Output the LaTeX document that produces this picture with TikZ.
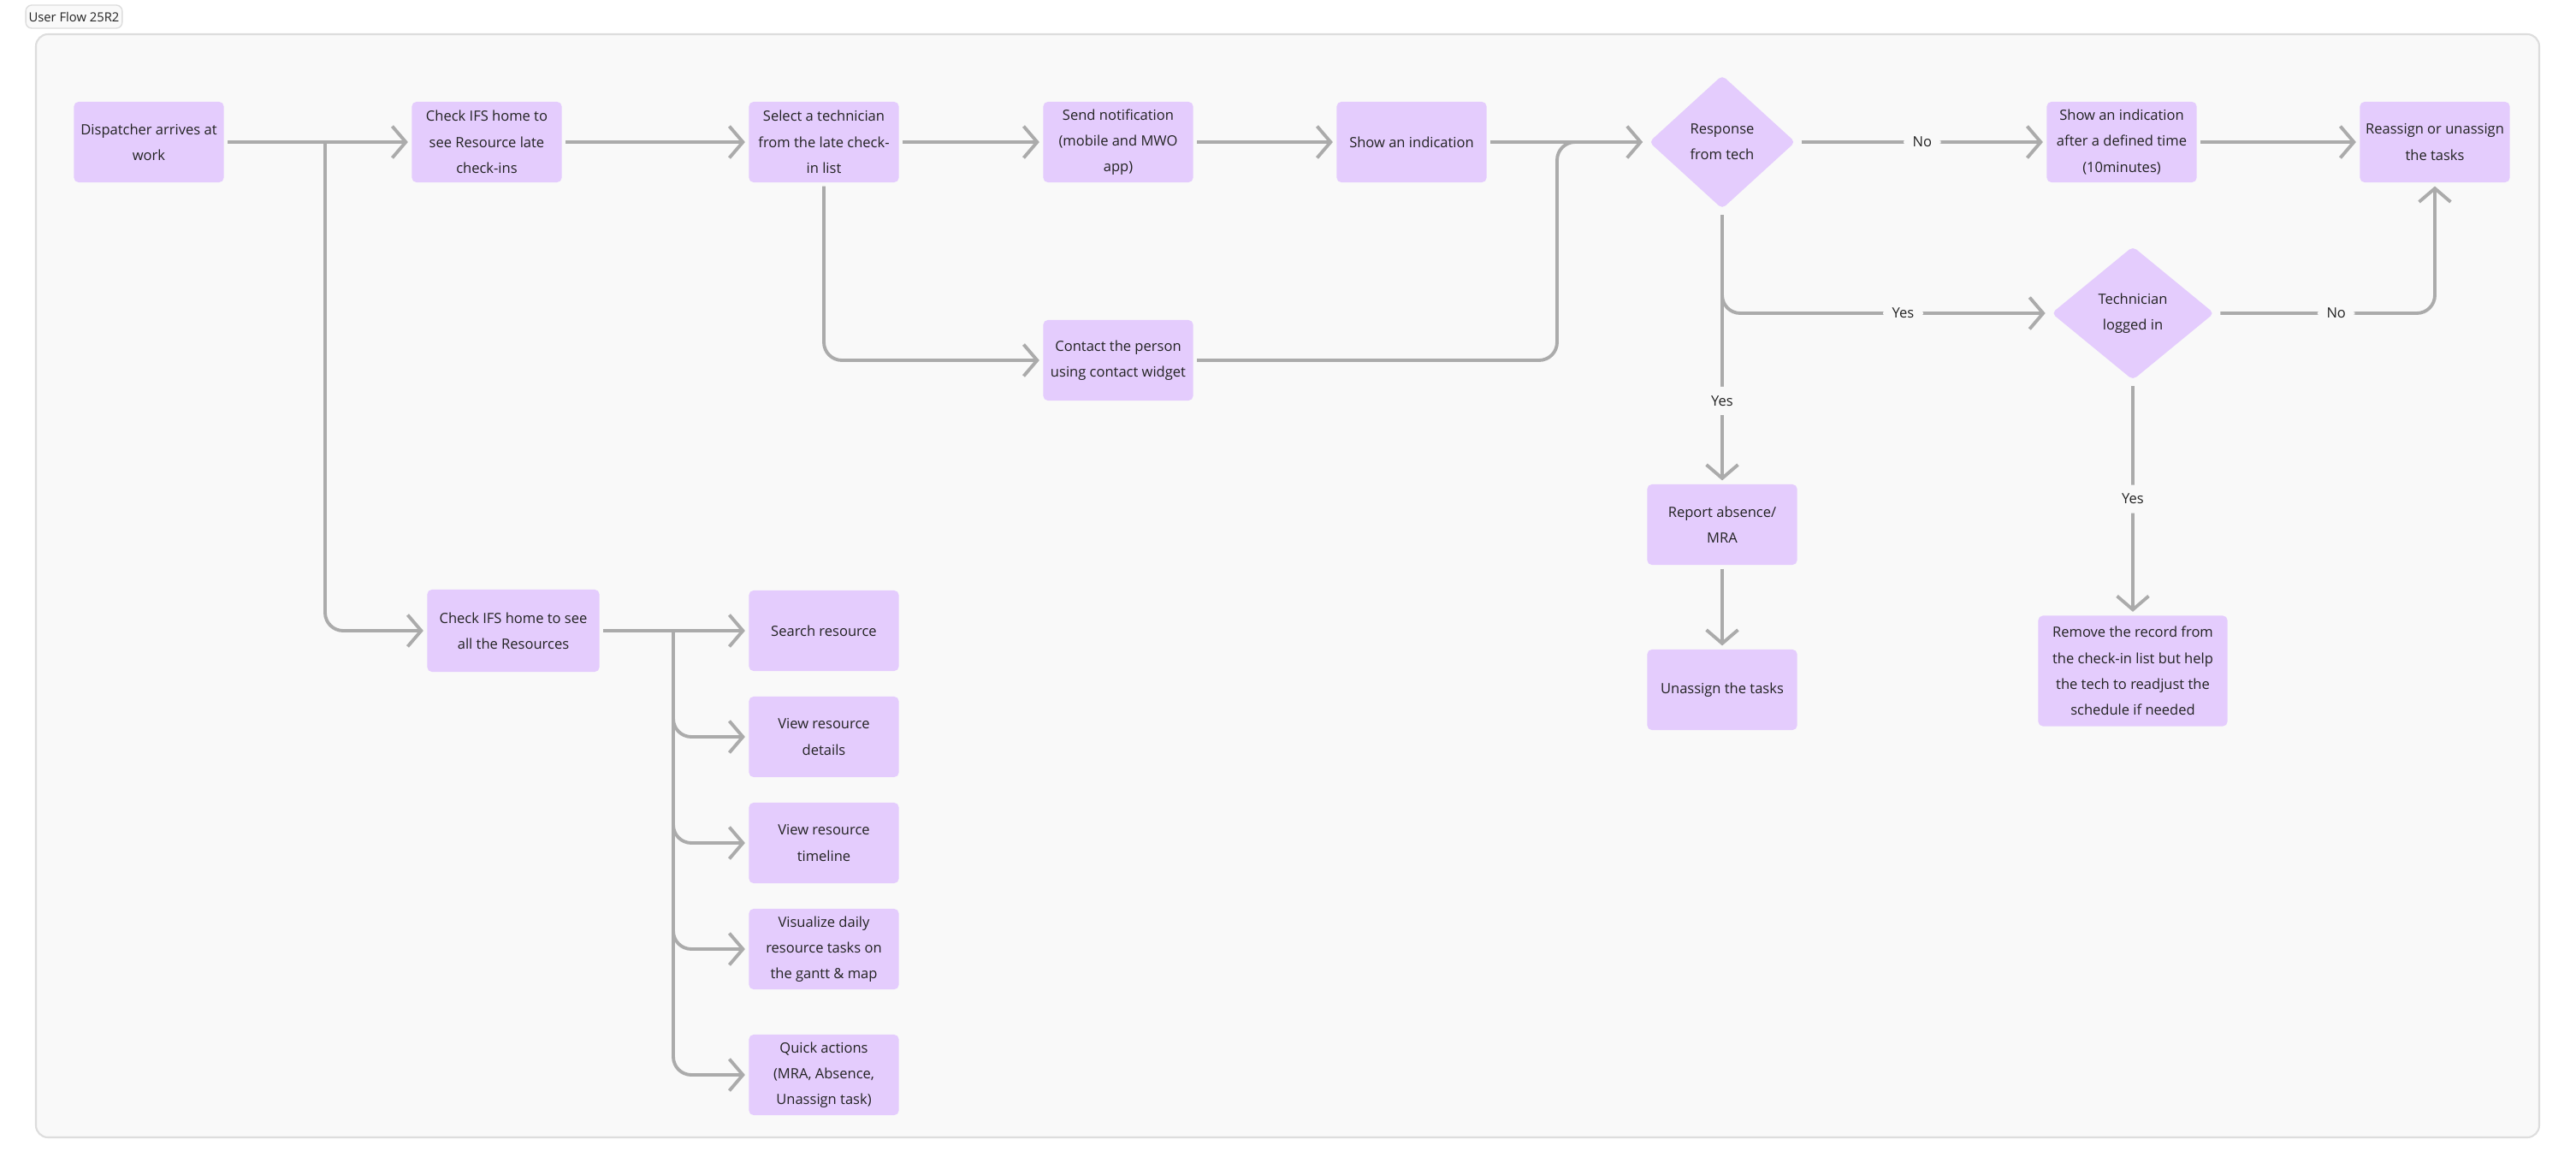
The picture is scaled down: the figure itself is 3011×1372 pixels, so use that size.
\documentclass[tikz,border=0pt]{standalone}
\usepackage{fontspec}
\setmainfont{Open Sans}
\usetikzlibrary{arrows.meta,shapes.geometric}
\definecolor{boxc}{HTML}{E4CCFD}
\definecolor{linec}{HTML}{ABABAB}
\definecolor{bgc}{HTML}{F9F9F9}
\definecolor{framec}{HTML}{DDDDDD}
\definecolor{txt}{HTML}{222222}
\begin{document}
\begin{tikzpicture}[x=0.01cm,y=-0.01cm,
  font=\fontsize{4.7}{8.6}\selectfont, text=txt,
  box/.style={fill=boxc,rounded corners=1.5pt,minimum width=1.75cm,minimum height=0.94cm,align=center,inner sep=1pt,outer sep=1.3pt},
  dia/.style={diamond,fill=boxc,rounded corners=1.5pt,align=center,inner sep=0pt,minimum width=1.75cm,minimum height=1.6cm,outer sep=1.5pt},
  ar/.style={draw=linec,line width=1.1pt,rounded corners=6pt,-{Straight Barb[length=4.5pt,width=10.5pt,line width=1.1pt]}},
  ln/.style={draw=linec,line width=1.1pt,rounded corners=6pt},
  lab/.style={fill=bgc,inner sep=3pt,text=txt}]
\useasboundingbox (0,0) rectangle (3011,1372);
\fill[white] (0,0) rectangle (3011,1372);
\draw[draw=framec,fill=bgc,line width=0.6pt,rounded corners=4pt] (42,40) rectangle (2968,1329);
\node[draw=framec,fill=bgc,rounded corners=2pt,line width=0.4pt,minimum width=0.93cm,minimum height=0.27cm,inner sep=1pt,font=\fontsize{4.2}{5}\selectfont] (title) at (86.5,19.5) {User Flow 25R2};

\node[box] (disp) at (174,166) {Dispatcher arrives at\\work};
\node[box] (chklate) at (569,166) {Check IFS home to\\see Resource late\\check-ins};
\node[box] (sel) at (963,166) {Select a technician\\from the late check-\\in list};
\node[box] (send) at (1307,166) {Send notification\\(mobile and MWO\\app)};
\node[box] (show) at (1650,166) {Show an indication};
\node[dia] (resp) at (2013,166) {Response\\from tech};
\node[box] (after) at (2480,166) {Show an indication\\after a defined time\\(10minutes)};
\node[box] (reas) at (2846,166) {Reassign or unassign\\the tasks};
\node[box] (contact) at (1307,421) {Contact the person\\using contact widget};
\node[dia,minimum width=1.94cm] (tech) at (2493,366) {Technician\\logged in};
\node[box] (report) at (2013,613) {Report absence/\\MRA};
\node[box] (unas) at (2013,806) {Unassign the tasks};
\node[box,minimum width=2.21cm,minimum height=1.29cm] (remove) at (2493,784) {Remove the record from\\the check-in list but help\\the tech to readjust the\\schedule if needed};
\node[box,minimum width=2.01cm,minimum height=0.96cm] (chkall) at (600,737) {Check IFS home to see\\all the Resources};
\node[box] (search) at (963,737) {Search resource};
\node[box] (det) at (963,861) {View resource\\details};
\node[box] (tl) at (963,985) {View resource\\timeline};
\node[box] (vis) at (963,1109) {Visualize daily\\resource tasks on\\the gantt \& map};
\node[box] (quick) at (963,1256) {Quick actions\\(MRA, Absence,\\Unassign task)};

\coordinate (j1) at (380,166);
\coordinate (j3) at (1820,166);
\coordinate (j5) at (787,737);

\draw[ar] (disp.east) -- (chklate.west);
\draw[ar] (j1) |- (chkall.west);
\draw[ar] (chklate.east) -- (sel.west);
\draw[ar] (sel.east) -- (send.west);
\draw[ar] (sel.south) |- (contact.west);
\draw[ar] (send.east) -- (show.west);
\draw[ar] (show.east) -- (resp.west);
\draw[ln] (contact.east) -| (j3) -- (1880,166);
\draw[ar] (resp.east) -- node[lab]{No} (after.west);
\draw[ar] (after.east) -- (reas.west);
\draw[ar] (resp.south) -- node[lab,pos=0.7]{Yes} (report.north);
\draw[ar] (resp.south) |- node[lab,pos=0.78]{Yes} (tech.west);
\draw[ar] (tech.east) -| node[lab,pos=0.27]{No} (reas.south);
\draw[ar] (tech.south) -- node[lab]{Yes} (remove.north);
\draw[ar] (report.south) -- (unas.north);
\draw[ar] (chkall.east) -- (search.west);
\draw[ar] (j5) |- (det.west);
\draw[ar] (j5) |- (tl.west);
\draw[ar] (j5) |- (vis.west);
\draw[ar] (j5) |- (quick.west);
\end{tikzpicture}
\end{document}
